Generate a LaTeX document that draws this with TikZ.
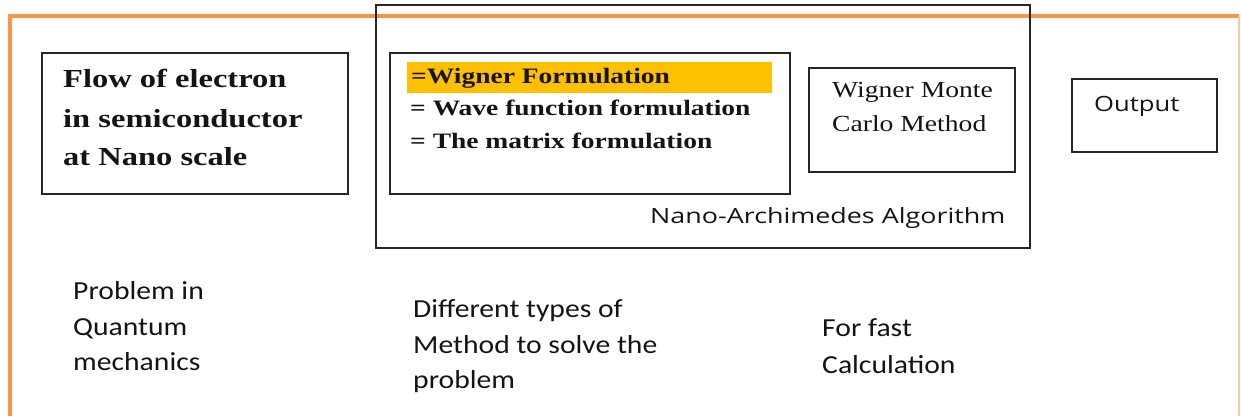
\documentclass[tikz,border=0pt]{standalone}
\usepackage{fontspec}
\newfontfamily\serifB[FakeStretch=1.25]{Liberation Serif}
\newfontfamily\serifR[FakeStretch=1.2]{Liberation Serif}
\newfontfamily\sansN[FakeStretch=1.28]{Open Sans}
\newfontfamily\sansO[FakeStretch=1.22]{Open Sans}
\newfontfamily\calib[FakeStretch=1.14]{Carlito}
\definecolor{frameorange}{HTML}{F79646}
\definecolor{framelight}{HTML}{FBC9A0}
\definecolor{hilite}{HTML}{FFC000}
\definecolor{boxline}{HTML}{262626}
\definecolor{ink}{HTML}{141414}
\tikzset{
  box/.style={draw=boxline, line width=1.5pt, inner sep=0pt, fill=none},
  hl/.style={fill=hilite, draw=none, inner sep=0pt},
  txt/.style={anchor=base west, inner sep=0pt, text=ink},
  boldtxt/.style={txt, font=\serifB\bfseries\fontsize{26}{30}\selectfont},
  formtxt/.style={txt, font=\serifB\bfseries\fontsize{22}{26}\selectfont},
  romtxt/.style={txt, font=\serifR\fontsize{23}{27}\selectfont},
  sansout/.style={txt, font=\sansO\fontsize{21}{25}\selectfont},
  sansnano/.style={txt, font=\sansN\fontsize{21}{25}\selectfont},
  caltxt/.style={txt, font=\calib\fontsize{26}{30}\selectfont},
}
\begin{document}
\begin{tikzpicture}[x=1pt,y=-1pt]
\useasboundingbox (0,0) rectangle (1241,416);
% orange frame
\draw[frameorange, line width=4pt] (10,416) -- (10,16) -- (1239,16);
\draw[framelight, line width=2pt] (1239,16) -- (1239,416);
% boxes
\node[box, minimum width=306pt, minimum height=141pt] (prob) at (195,123.5) {};
\node[box, minimum width=654pt, minimum height=243pt] (algo) at (703,126.5) {};
\node[hl, minimum width=365pt, minimum height=31pt] (hilite) at (589.5,77.5) {};
\node[box, minimum width=400pt, minimum height=141pt] (forms) at (590,123.5) {};
\node[box, minimum width=206pt, minimum height=104pt] (wmc) at (912,120) {};
\node[box, minimum width=145pt, minimum height=73pt] (outb) at (1144.5,115.5) {};
% box texts
\node[boldtxt] (p1) at (63,87) {Flow of electron};
\node[boldtxt] (p2) at (63,127) {in semiconductor};
\node[boldtxt] (p3) at (63,165) {at Nano scale};
\node[formtxt] (f1) at (411,83) {=Wigner Formulation};
\node[formtxt] (f2) at (410,115) {= Wave function formulation};
\node[formtxt] (f3) at (410,148) {= The matrix formulation};
\node[romtxt] (w1) at (832,97) {Wigner Monte};
\node[romtxt] (w2) at (832,131) {Carlo Method};
\node[sansout] (o1) at (1094,111) {Output};
\node[sansnano] (n1) at (650,223) {Nano-Archimedes Algorithm};
% bottom captions
\node[caltxt] (q1) at (73,299) {Problem in};
\node[caltxt] (q2) at (73,335) {Quantum};
\node[caltxt] (q3) at (73,370) {mechanics};
\node[caltxt] (d1) at (413,317) {Different types of};
\node[caltxt] (d2) at (413,353) {Method to solve the};
\node[caltxt] (d3) at (413,388) {problem};
\node[caltxt] (c1) at (822,336) {For fast};
\node[caltxt] (c2) at (822,373) {Calculation};
\end{tikzpicture}
\end{document}
